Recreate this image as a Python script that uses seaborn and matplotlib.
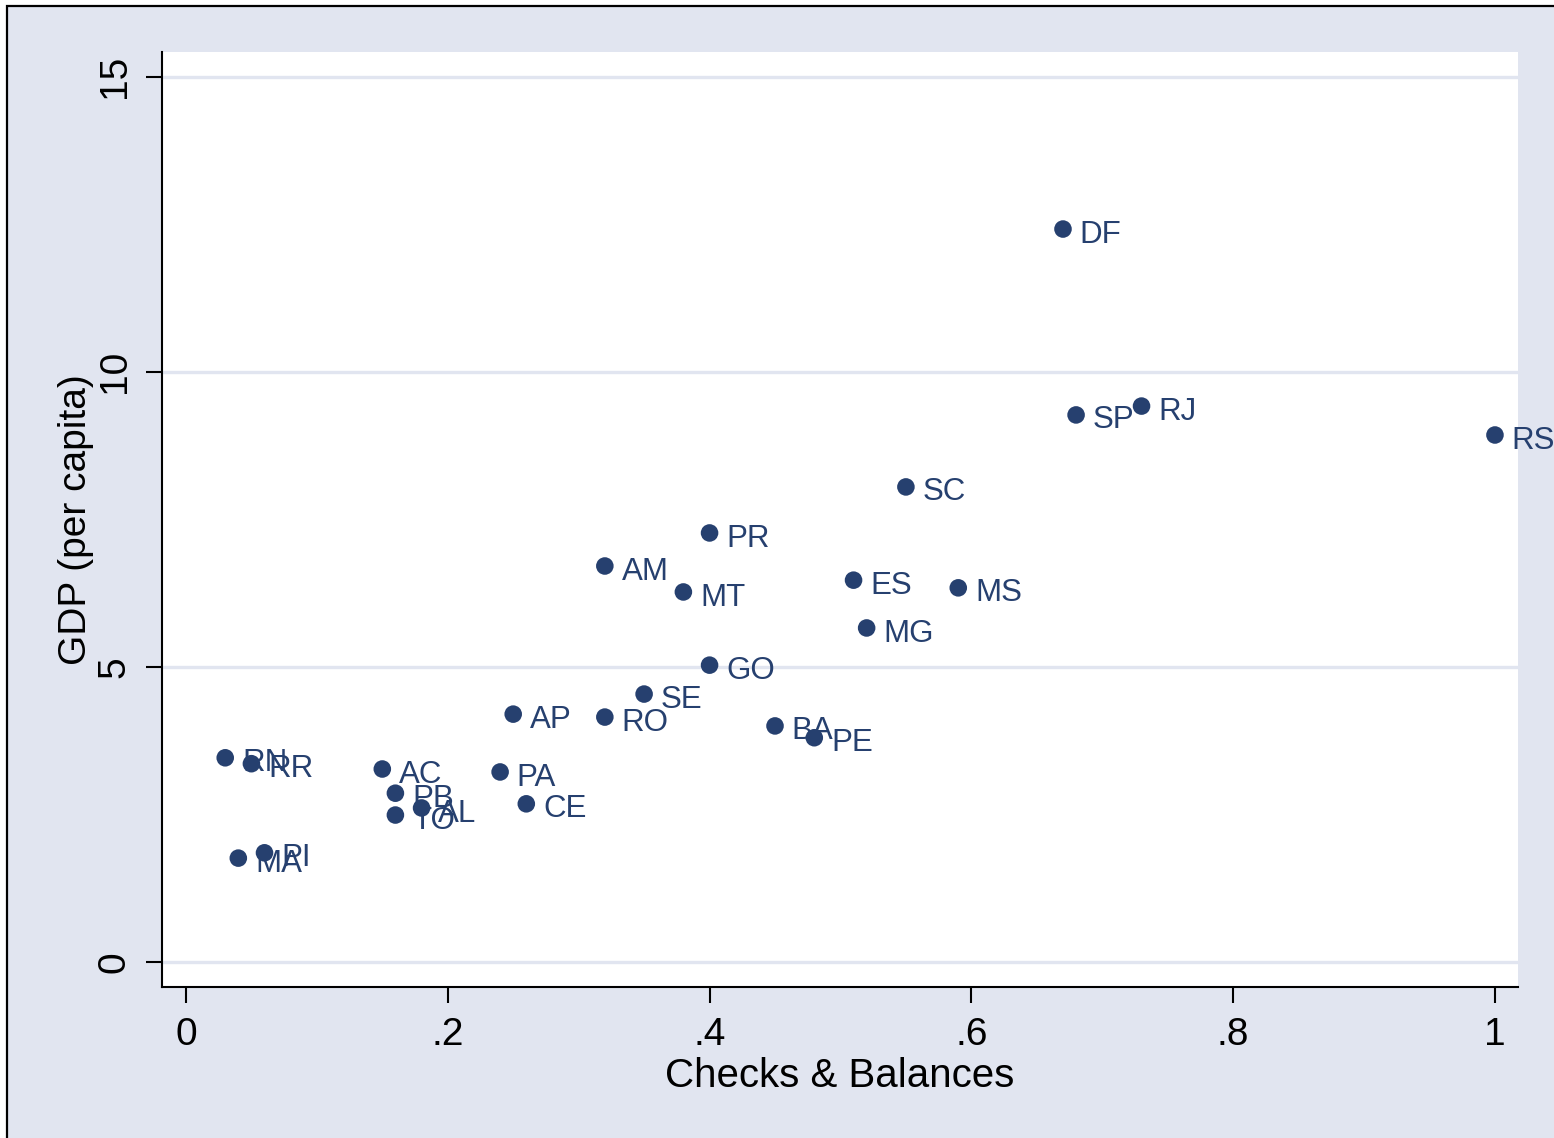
import matplotlib
matplotlib.use("Agg")
import matplotlib.pyplot as plt
from matplotlib.patches import Rectangle
import seaborn as sns
import pandas as pd

states = ["DF", "SP", "RJ", "RS", "SC", "PR", "AM", "MT", "ES", "MS", "MG",
          "GO", "SE", "AP", "RO", "BA", "PE", "RN", "RR", "AC", "PA", "PB",
          "AL", "TO", "CE", "PI", "MA"]
checks = [0.67, 0.68, 0.73, 1.00, 0.55, 0.40, 0.32, 0.38, 0.51, 0.59, 0.52,
          0.40, 0.35, 0.25, 0.32, 0.45, 0.48, 0.03, 0.05, 0.15, 0.24, 0.16,
          0.18, 0.16, 0.26, 0.06, 0.04]
gdp = [12.42, 9.27, 9.42, 8.93, 8.05, 7.27, 6.71, 6.27, 6.47, 6.34, 5.66,
       5.03, 4.54, 4.20, 4.15, 4.00, 3.80, 3.46, 3.36, 3.27, 3.22, 2.86,
       2.61, 2.49, 2.68, 1.85, 1.76]

xticks = [0, 0.2, 0.4, 0.6, 0.8, 1.0]
xticklabels = ["0", ".2", ".4", ".6", ".8", "1"]
yticks = [0, 5, 10, 15]
yticklabels = ["0", "5", "10", "15"]

df = pd.DataFrame({"state": states, "checks": checks, "gdp": gdp})

navy = "#26406F"
bg = "#E1E5F0"

sns.set_style("white")
plt.rcParams["font.family"] = ["Liberation Sans", "DejaVu Sans"]

W, H = 1554, 1138
fig = plt.figure(figsize=(W / 100, H / 100), dpi=100, facecolor="white")

# outer graph region with its frame line, kept behind the axes
frame = Rectangle((7 / W, -0.2), 1.5, 1.2 - 6 / H,
                  transform=fig.transFigure, facecolor=bg,
                  edgecolor="black", linewidth=1.6, zorder=-10)
fig.patches.append(frame)

ax = fig.add_axes([162 / W, 1 - 987 / H, (1518 - 162) / W, (987 - 52) / H])
ax.set_facecolor("white")

sns.scatterplot(data=df, x="checks", y="gdp", ax=ax, color=navy, s=160,
                edgecolor="none", linewidth=0, zorder=3, legend=False)

for _, r in df.iterrows():
    ax.annotate(r["state"], (r["checks"], r["gdp"]), xytext=(12, -4),
                textcoords="offset points", ha="left", va="center",
                fontsize=22.5, color=navy, annotation_clip=False, zorder=4)

ax.set_xlim(-0.0183, 1.0176)
ax.set_ylim(-0.424, 15.42)

ax.set_xticks(xticks)
ax.set_xticklabels(xticklabels)
ax.set_yticks(yticks)
ax.set_yticklabels(yticklabels, rotation=90, va="center")

ax.grid(axis="y", color=bg, linewidth=2.4, zorder=0)
ax.set_axisbelow(True)

for side in ["top", "right"]:
    ax.spines[side].set_visible(False)
for side in ["left", "bottom"]:
    ax.spines[side].set_linewidth(1.5)
    ax.spines[side].set_color("black")

ax.tick_params(axis="both", which="major", direction="out", length=11.5,
               width=1.5, color="black", labelsize=28, labelcolor="black",
               bottom=True, left=True)
ax.tick_params(axis="x", pad=10)
ax.tick_params(axis="y", pad=9.5)

ax.set_xlabel("Checks & Balances", fontsize=29, labelpad=3, color="black")
ax.set_ylabel("GDP (per capita)", fontsize=28, labelpad=2, color="black")

fig.savefig("out.png", dpi=100, facecolor=fig.get_facecolor())
